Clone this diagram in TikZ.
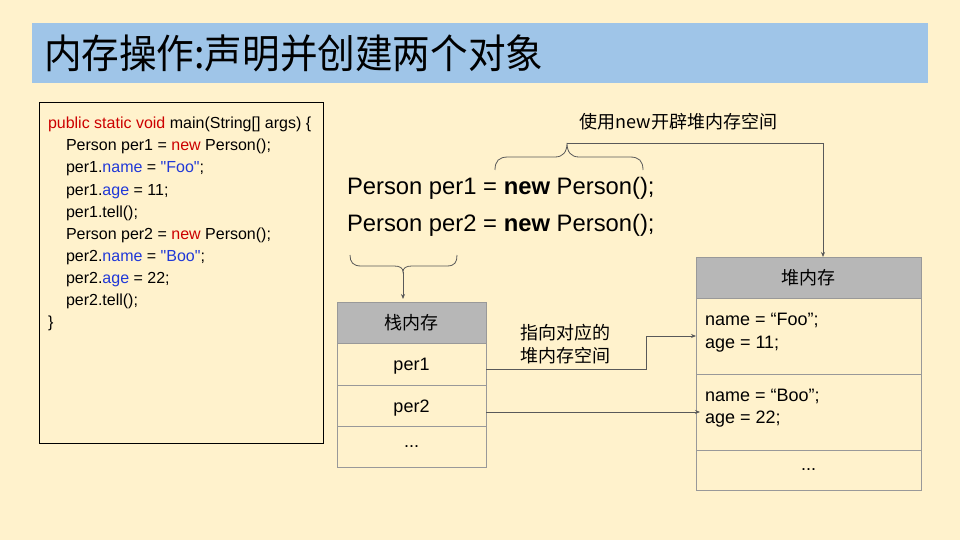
\documentclass[tikz,border=0pt]{standalone}
\usepackage{fontspec}
\setmainfont{Liberation Sans}
\newfontfamily\codefont{Liberation Sans}
\newfontfamily\cjk{Noto Sans CJK SC}
\usetikzlibrary{arrows.meta}
\definecolor{bgc}{HTML}{FFF2CC}
\definecolor{titlec}{HTML}{9FC5E8}
\definecolor{hdrc}{HTML}{B7B7B7}
\definecolor{bordc}{HTML}{999999}
\definecolor{linec}{HTML}{595959}
\definecolor{kwred}{HTML}{CC0000}
\definecolor{kwblue}{HTML}{2038D8}
\begin{document}
\begin{tikzpicture}[x=1pt,y=-1pt,
  every node/.style={inner sep=0pt,outer sep=0pt},
  code/.style={anchor=base west,font=\codefont\fontsize{16}{16}\selectfont},
  big/.style={anchor=base west,font=\fontsize{23.8}{23.8}\selectfont},
  txt/.style={anchor=base west,font=\fontsize{18}{18}\selectfont},
  cell/.style={draw=bordc,line width=0.8pt,font=\fontsize{18}{18}\selectfont},
  scell/.style={cell,minimum width=149pt},
  hcell/.style={cell,minimum width=225pt},
  brace/.style={draw=linec,line width=0.8pt},
  arr/.style={draw=linec,line width=0.8pt,-{Stealth[length=5pt,width=4pt]}}]
\useasboundingbox (0,0) rectangle (960,540);
\fill[bgc] (0,0) rectangle (960,540);
% title
\node[fill=titlec,minimum width=896pt,minimum height=60pt] (titlebar) at (480,53.5) {};
\node[anchor=west,font=\cjk\fontsize{40}{40}\selectfont] (title) at (44,53.5) {\scalebox{0.94}[1]{内存操作:声明并创建两个对象}};
% code box
\node[draw=black,line width=0.8pt,minimum width=284pt,minimum height=341pt] (codebox) at (181,272.5) {};
\node[code] (c1) at (48,129) {\textcolor{kwred}{public static void} main(String[] args) \{};
\node[code] (c2) at (66,151) {Person per1 = \textcolor{kwred}{new} Person();};
\node[code] (c3) at (66,173) {per1.\textcolor{kwblue}{name} = \textcolor{kwblue}{"Foo"};};
\node[code] (c4) at (66,195) {per1.\textcolor{kwblue}{age} = 11;};
\node[code] (c5) at (66,217) {per1.tell();};
\node[code] (c6) at (66,239) {Person per2 = \textcolor{kwred}{new} Person();};
\node[code] (c7) at (66,261) {per2.\textcolor{kwblue}{name} = \textcolor{kwblue}{"Boo"};};
\node[code] (c8) at (66,283) {per2.\textcolor{kwblue}{age} = 22;};
\node[code] (c9) at (66,305) {per2.tell();};
\node[code] (c10) at (48,327) {\}};
% statements
\node[big] (s1) at (347,194.5) {Person per1 = \textbf{new} Person();};
\node[big] (s2) at (347,231.5) {Person per2 = \textbf{new} Person();};
% braces
\draw[brace] (495,170) .. controls (495,161) and (499,157) .. (508,157) -- (555,157)
  .. controls (563,157) and (567,152) .. (567,143)
  .. controls (567,152) and (571,157) .. (579,157) -- (630,157)
  .. controls (639,157) and (643,161) .. (643,170);
\coordinate (tb) at (567,143);
\draw[brace] (350,255) .. controls (350,262) and (353,266) .. (361,266) -- (394,266)
  .. controls (400,266) and (403,268) .. (403,272)
  .. controls (403,268) and (406,266) .. (412,266) -- (447,266)
  .. controls (455,266) and (457,262) .. (457,255);
\coordinate (bb) at (403,272);
% stack
\node[scell,minimum height=41pt,fill=hdrc] (sh) at (411.5,322.5) {\cjk 栈内存};
\node[scell,minimum height=42pt] (p1) at (411.5,364) {\raisebox{0pt}[16.9pt][3.8pt]{per1}};
\node[scell,minimum height=41pt] (p2) at (411.5,405.5) {\raisebox{0pt}[16.9pt][3.8pt]{per2}};
\node[scell,minimum height=41pt] (p3) at (411.5,446.5) {...};
% heap
\node[hcell,minimum height=41pt,fill=hdrc] (hh) at (808.5,277.5) {\cjk 堆内存};
\node[hcell,minimum height=76pt] (h1) at (808.5,336) {};
\node[hcell,minimum height=76pt] (h2) at (808.5,412) {};
\node[hcell,minimum height=40pt] (h3) at (808.5,470) {...};
\node[txt] (f1) at (705,325.5) {name = “Foo”;};
\node[txt] (f2) at (705,348) {age = 11;};
\node[txt] (b1) at (705,401) {name = “Boo”;};
\node[txt] (b2) at (705,423.5) {age = 22;};
% labels
\node[font=\cjk\fontsize{18}{18}\selectfont] (l1) at (678.5,122) {使用new开辟堆内存空间};
\node[anchor=west,align=left,font=\cjk\fontsize{18}{23}\selectfont] (l2) at (520,344) {指向对应的\\堆内存空间};
% arrows
\draw[arr] (tb) -| ([xshift=14.5pt]hh.north);
\draw[arr,shorten >=3pt] (bb) -- (bb |- sh.north);
\draw[arr] ([yshift=-5pt]p1.east) -- ++(160,0) |- (h1.west);
\draw[arr] (p2.east |- h2.west) -- ([xshift=4pt]h2.west);
\end{tikzpicture}
\end{document}
